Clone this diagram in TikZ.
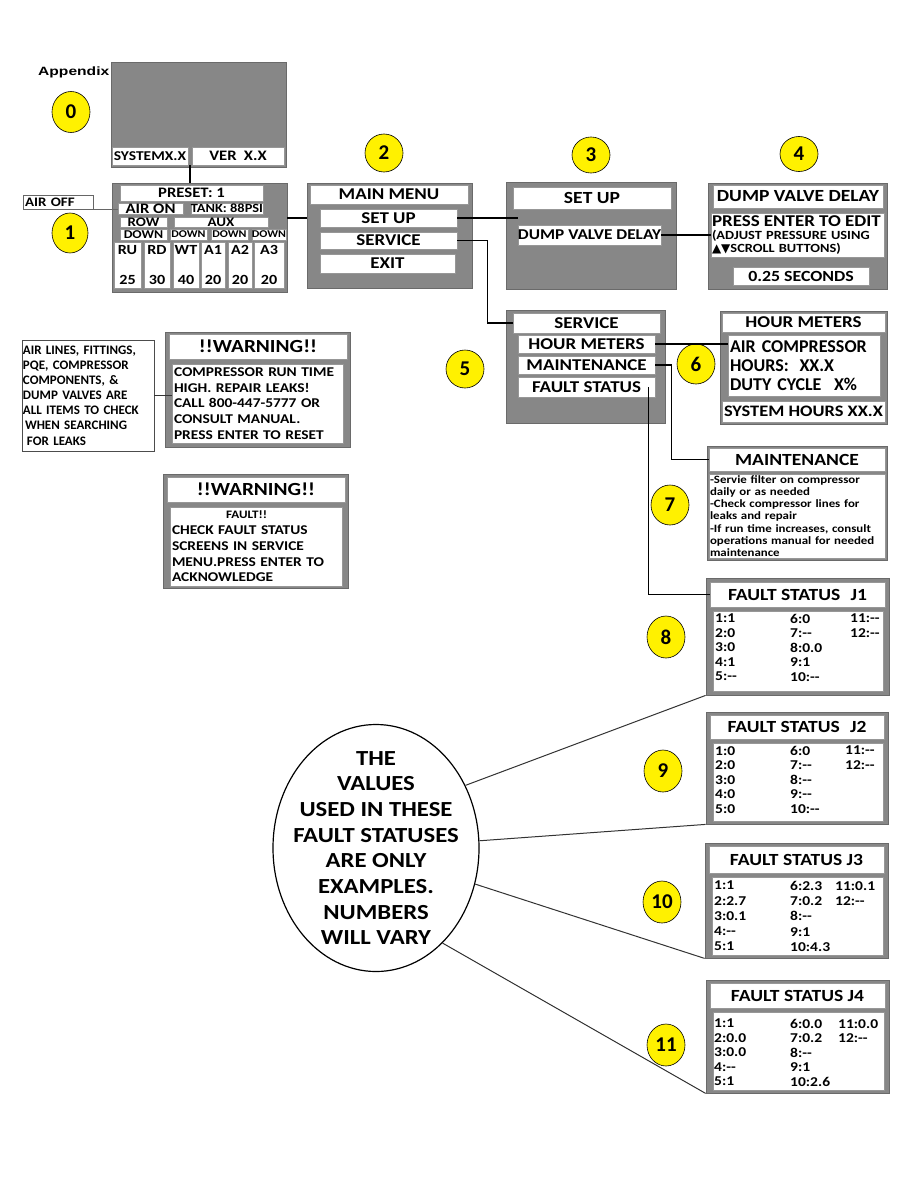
\documentclass[tikz,border=0pt]{standalone}
\usepackage{fontspec}
\setmainfont{Carlito}[FakeStretch=1.15]
\newfontfamily\plainface{Carlito}
\newfontfamily\headfont{Liberation Sans}[FakeStretch=1.3]
\newfontfamily\symbfont{DejaVu Sans}
\usetikzlibrary{shapes.geometric,calc}
\definecolor{ScreenGray}{HTML}{878787}
\definecolor{EdgeGray}{HTML}{6A6A6A}
\definecolor{BadgeYellow}{HTML}{FFF100}
\newcommand{\fsz}[2]{\fontsize{#1}{#2}\selectfont\bfseries}
\tikzset{
  spanbox/.style n args={4}{at={({(#1+#3)/2},{(#2+#4)/2})}, minimum width={#3-#1}, minimum height={#4-#2}},
  screen/.style={draw=EdgeGray, fill=ScreenGray, line width=0.8pt, inner sep=0pt},
  cell/.style={draw=EdgeGray!70, fill=white, line width=0.5pt, inner sep=0pt, align=center},
  badge/.style={ellipse, draw=black, fill=BadgeYellow, line width=0.6pt, inner sep=0pt, minimum width=38pt, minimum height=38pt, font={\plainface\fsz{21}{21}}},
  link/.style={draw=black, line width=1.4pt},
  thinlink/.style={draw=black!80, line width=1pt},
  faultrows/.style={inner sep=0pt, anchor=north west, align=left, font=\fsz{13.5}{14.5}}
}

\begin{document}
\begin{tikzpicture}[x=1pt, y=-1pt]
\path[use as bounding box, fill=white] (0,0) rectangle (918,1188);

\node[anchor=west, inner sep=0pt, font={\headfont\fsz{12}{12}}] (appx) at (38,72) {Appendix};

% screen 0: start up
\node[screen, spanbox={111}{62}{286}{167}] (scr0) {};
\node[cell, spanbox={112}{147}{188}{165}, font=\fsz{13.5}{13.5}] (sysx) {SYSTEMX.X};
\node[cell, spanbox={192}{147}{284}{165}, font=\fsz{14.5}{14.5}] (ver) {VER\hspace{0.5em}X.X};
\node[badge, minimum width=38pt, minimum height=41pt] (b0) at (71,112) {0};

% screen 1: run screen
\node[screen, spanbox={112}{183}{287}{292}] (scr1) {};
\node[cell, spanbox={120}{185}{263}{201}, font=\fsz{14.5}{14.5}] (preset) {PRESET: 1};
\node[cell, spanbox={118}{203}{183}{214}, font=\fsz{14.5}{14.5}] (airon) {AIR ON};
\node[cell, spanbox={192}{203}{262}{214}, font=\fsz{12.5}{12.5}] (tank) {TANK: 88PSI};
\node[cell, spanbox={120}{217}{167}{227}, font=\fsz{13}{13}] (row) {ROW};
\node[cell, spanbox={174}{217}{268}{227}, font=\fsz{13}{13}] (aux) {AUX};
\node[cell, spanbox={120}{229}{167}{240}, font=\fsz{12}{12}] (dnrow) {DOWN};
\node[cell, spanbox={170}{229}{207}{240}, font=\fsz{10.4}{10.4}] (dnwt) {DOWN};
\node[cell, spanbox={211}{229}{248}{240}, font=\fsz{10.4}{10.4}] (dnaa) {DOWN};
\node[cell, spanbox={252}{229}{286}{240}, font=\fsz{10.4}{10.4}] (dnab) {DOWN};
\node[cell, spanbox={114}{242}{141}{288}, font=\fsz{14}{14}] (ru) {RU\\[16pt]25};
\node[cell, spanbox={144}{242}{170}{288}, font=\fsz{14}{14}] (rd) {RD\\[16pt]30};
\node[cell, spanbox={173}{242}{199}{288}, font=\fsz{14}{14}] (wt) {WT\\[16pt]40};
\node[cell, spanbox={201}{242}{225}{288}, font=\fsz{14}{14}] (aone) {A1\\[16pt]20};
\node[cell, spanbox={228}{242}{252}{288}, font=\fsz{14}{14}] (atwo) {A2\\[16pt]20};
\node[cell, spanbox={254}{242}{284}{288}, font=\fsz{14}{14}] (athree) {A3\\[16pt]20};
\node[cell, draw=black!60, align=left, text width=66pt, spanbox={23}{195}{93}{209}, font=\fsz{13}{13}] (airoff) {AIR OFF};
\node[badge, minimum width=36pt, minimum height=40pt] (b1) at (70,233) {1};

% screen 2: main menu
\node[screen, spanbox={307}{183}{472}{288}] (mm) {};
\node[cell, spanbox={310}{185}{468}{204}, font=\fsz{16.5}{16.5}] (mmtitle) {MAIN MENU};
\node[cell, spanbox={320}{209}{457}{227}, font=\fsz{16.5}{16.5}] (mmsetup) {SET UP};
\node[cell, spanbox={320}{232}{457}{249}, font=\fsz{16.5}{16.5}] (mmservice) {SERVICE};
\node[cell, spanbox={320}{254}{455}{273}, font=\fsz{16.5}{16.5}] (mmexit) {EXIT};
\node[badge] (b2) at (384,153) {2};

% screen 3: set up
\node[screen, spanbox={506}{182}{676}{289}] (su) {};
\node[cell, spanbox={513}{187}{671}{209}, font=\fsz{17}{17}] (sutitle) {SET UP};
\node[cell, spanbox={521}{225}{658}{245}, font=\fsz{15}{15}] (sudvd) {DUMP VALVE DELAY};
\node[badge, minimum height=36pt] (b3) at (591,155) {3};

% screen 4: dump valve delay
\node[screen, spanbox={708}{183}{887}{289}] (dvd) {};
\node[cell, spanbox={713}{185}{883}{208}, font=\fsz{17}{17}] (dvdtitle) {DUMP VALVE DELAY};
\node[cell, spanbox={711}{213}{884}{257}, align=left, text width=171pt, font=\fsz{12.5}{13}] (dvdedit) {{\fsz{16.5}{13}PRESS ENTER TO EDIT}\\(ADJUST PRESSURE USING\\{\symbfont\fontsize{12}{13}\selectfont ▲▼}SCROLL BUTTONS)};
\node[cell, spanbox={733}{267}{869}{285}, font=\fsz{15.5}{15.5}] (dvdsec) {0.25 SECONDS};
\node[badge, minimum height=35pt] (b4) at (799,154) {4};

% screen 5: service
\node[screen, spanbox={506}{310}{665}{423}] (svc) {};
\node[cell, spanbox={513}{313}{660}{333}, font=\fsz{16.5}{16.5}] (svctitle) {SERVICE};
\node[cell, spanbox={518}{335}{655}{353}, font=\fsz{16.5}{16.5}] (svchour) {HOUR METERS};
\node[cell, spanbox={518}{356}{655}{374}, font=\fsz{16.5}{16.5}] (svcmaint) {MAINTENANCE};
\node[cell, spanbox={518}{377}{655}{397}, font=\fsz{16.5}{16.5}] (svcfault) {FAULT STATUS};
\node[badge] (b5) at (465,369) {5};

% screen 6: hour meters
\node[screen, spanbox={720}{311}{887}{424}] (hm) {};
\node[cell, spanbox={722}{313}{885}{332}, font=\fsz{16.5}{16.5}] (hmtitle) {HOUR METERS};
\node[cell, spanbox={728}{335}{880}{396}, align=left, text width=148pt, font={\plainface\fsz{18}{19}}] (hmbody) {AIR COMPRESSOR\\HOURS:\hspace{0.6em}XX.X\\DUTY CYCLE\hspace{0.7em}X\%};
\node[cell, spanbox={722}{401}{885}{422}, font=\fsz{16}{16}] (hmsys) {SYSTEM HOURS XX.X};
\node[badge, minimum height=40pt] (b6) at (696,364) {6};

% screen 7: maintenance
\node[screen, line width=0.6pt, spanbox={707}{446}{887}{560}] (mt) {};
\node[cell, spanbox={709}{448}{885}{471}, font=\fsz{17}{17}] (mttitle) {MAINTENANCE};
\node[cell, spanbox={709}{474}{885}{558}, align=left, text width=174pt, font=\fsz{11.2}{12.3}] (mtbody) {-Servie filter on compressor\\daily or as needed\\-Check compressor lines for\\leaks and repair\\-If run time increases, consult\\operations manual for needed\\maintenance};
\node[badge, minimum height=40pt] (b7) at (670,505) {7};

% screens 8-11: fault status
\node[screen, spanbox={706}{578}{889}{695}] (jone) {};
\node[cell, spanbox={710}{582}{885}{607}, font=\fsz{17}{17}] (jonetitle) {FAULT STATUS\hspace{0.6em}J1};
\node[cell, spanbox={713}{611}{883}{691}] (jonebody) {};
\node[faultrows] (jonea) at (715,614) {1:1\\2:0\\3:0\\4:1\\5:-{}-};
\node[faultrows] (joneb) at (790,614) {6:0\\7:-{}-\\8:0.0\\9:1\\10:-{}-};
\node[faultrows] (jonec) at (850,614) {11:-{}-\\12:-{}-};
\node[badge, minimum height=42pt] (b8) at (666,637) {8};

\node[screen, spanbox={706}{712}{888}{824}] (jtwo) {};
\node[cell, spanbox={710}{715}{884}{739}, font=\fsz{17}{17}] (jtwotitle) {FAULT STATUS\hspace{0.6em}J2};
\node[cell, spanbox={713}{743}{883}{821}] (jtwobody) {};
\node[faultrows] (jtwoa) at (715,746) {1:0\\2:0\\3:0\\4:0\\5:0};
\node[faultrows] (jtwob) at (790,746) {6:0\\7:-{}-\\8:-{}-\\9:-{}-\\10:-{}-};
\node[faultrows] (jtwoc) at (845,746) {11:-{}-\\12:-{}-};
\node[badge, minimum height=42pt] (b9) at (663,771) {9};

\node[screen, spanbox={705}{843}{888}{958}] (jthree) {};
\node[cell, spanbox={709}{846}{884}{873}, font=\fsz{17}{17}] (jthreetitle) {FAULT STATUS J3};
\node[cell, spanbox={712}{877}{883}{955}] (jthreebody) {};
\node[faultrows, font=\fsz{13.5}{15.2}] (jthreea) at (714,881) {1:1\\2:2.7\\3:0.1\\4:-{}-\\5:1};
\node[faultrows, font=\fsz{13.5}{15.2}] (jthreeb) at (790,881) {6:2.3\\7:0.2\\8:-{}-\\9:1\\10:4.3};
\node[faultrows, font=\fsz{13.5}{15.2}] (jthreec) at (835,881) {11:0.1\\12:-{}-};
\node[badge, minimum height=42pt] (b10) at (662,902) {10};

\node[screen, spanbox={706}{980}{889}{1093}] (jfour) {};
\node[cell, spanbox={710}{983}{885}{1008}, font=\fsz{17}{17}] (jfourtitle) {FAULT STATUS J4};
\node[cell, spanbox={713}{1012}{884}{1090}] (jfourbody) {};
\node[faultrows] (jfoura) at (714,1019) {1:1\\2:0.0\\3:0.0\\4:-{}-\\5:1};
\node[faultrows] (jfourb) at (790,1019) {6:0.0\\7:0.2\\8:-{}-\\9:1\\10:2.6};
\node[faultrows] (jfourc) at (838,1019) {11:0.0\\12:-{}-};
\node[badge, minimum height=42pt] (b11) at (666,1045) {11};

% note about example values
\node[ellipse, draw=black, line width=1.2pt, inner sep=0pt, minimum width=206pt, minimum height=247pt] (note) at (376,848) {};
\node[align=center, inner sep=0pt, font=\fsz{21.5}{25.7}] (notetext) at (note.center) {THE\\VALUES\\USED IN THESE\\FAULT STATUSES\\ARE ONLY\\EXAMPLES.\\NUMBERS\\WILL VARY};

% warning screens
\node[draw=black!70, line width=0.8pt, fill=white, inner sep=0pt, spanbox={22}{340}{154}{451}, align=left, text width=130pt, font={\plainface\fsz{13}{15.1}}] (leaks) {AIR LINES, FITTINGS,\\PQE, COMPRESSOR\\COMPONENTS, \&\\DUMP VALVES ARE\\ALL ITEMS TO CHECK\\\hspace*{2pt}WHEN SEARCHING\\\hspace*{4pt}FOR LEAKS};
\node[screen, spanbox={165}{332}{350}{447}] (warnone) {};
\node[cell, spanbox={169}{334}{347}{359}, font=\fsz{18.5}{18.5}] (warnonetitle) {!!WARNING!!};
\node[cell, spanbox={172}{364}{343}{443}, align=left, text width=167pt, font=\fsz{13.4}{15.8}] (warnonebody) {COMPRESSOR RUN TIME\\HIGH. REPAIR LEAKS!\\CALL 800-447-5777 OR\\CONSULT MANUAL.\\PRESS ENTER TO RESET};

\node[screen, spanbox={163}{474}{348}{588}] (warntwo) {};
\node[cell, spanbox={167}{477}{345}{502}, font=\fsz{18.5}{18.5}] (warntwotitle) {!!WARNING!!};
\node[cell, spanbox={170}{507}{342}{586}, align=left, text width=168pt, font=\fsz{13.4}{15.8}] (warntwobody) {{\fsz{11.4}{15.8}\hspace*{54pt}FAULT!!}\\CHECK FAULT STATUS\\SCREENS IN SERVICE\\MENU.PRESS ENTER TO\\ACKNOWLEDGE};

% connectors
\draw[link] ($(sysx.south east)!.5!(ver.south west)$) coordinate (c0) -- (c0 |- scr1.north);
\draw[thinlink, draw=black!60] (airoff.south east) -- (airoff.south east -| airon.west);
\draw[link] (scr1.east |- mmsetup.west) -- (mm.west |- mmsetup.west);
\draw[link] (mmsetup.east) -- (mmsetup.east -| sudvd.west);
\draw[link] (sudvd.east) -- (sudvd.east -| dvdedit.west);
\draw[link] (mmservice.east) -- ++(30,0) |- (svctitle.west);
\draw[link] (svchour.east) -- (svchour.east -| hmbody.west);
\draw[link] (svcmaint.east) -- ++(16,0) |- (mttitle.west);
\draw[link] ([xshift=-7pt]svcfault.east) |- (jonetitle.west);
\draw[thinlink] (leaks.east) -- (leaks.east -| warnonebody.west);
\draw[thinlink] (note.35) -- (jone.south west);
\draw[thinlink] (note.4) -- (jtwo.south west);
\draw[thinlink] (note.-20) -- (jthree.south west);
\draw[thinlink] (note.-55) -- (jfour.south west);
\end{tikzpicture}
\end{document}
